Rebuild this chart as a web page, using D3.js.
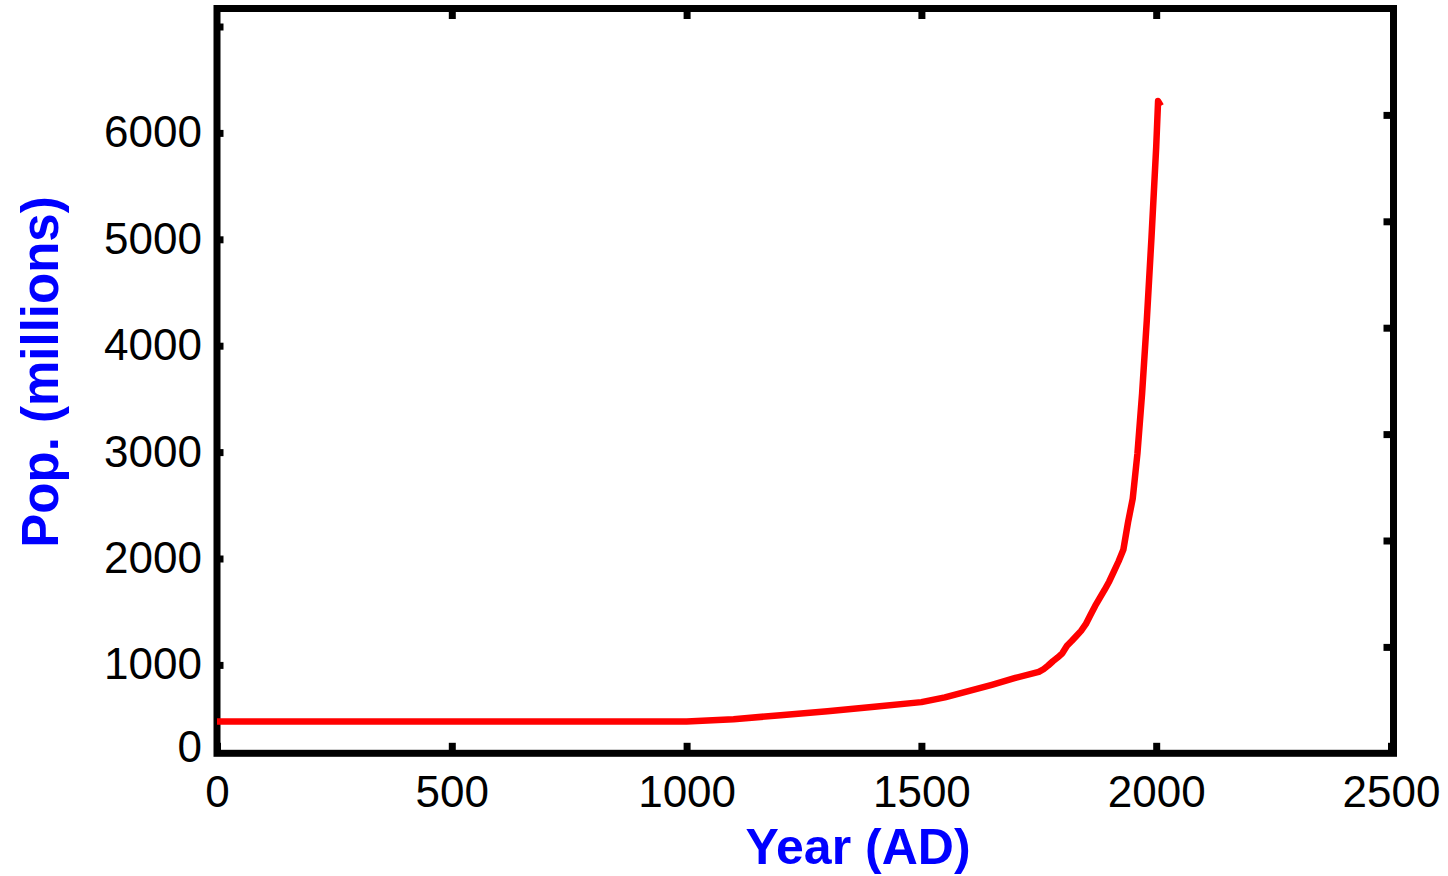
<!DOCTYPE html>
<html>
<head>
<meta charset="utf-8">
<script src="https://cdn.jsdelivr.net/npm/d3@7"></script>
<style>
  body { margin: 0; background: #fff; }
  svg { display: block; }
</style>
</head>
<body>
<svg id="chart" width="1448" height="876"></svg>
<script>
// world population (year AD, millions)
var years = [0, 1000, 1100, 1200, 1300, 1400, 1500, 1550, 1600, 1650, 1700, 1750, 1760,
             1770, 1780, 1790, 1800, 1810, 1820, 1830, 1840, 1850, 1860, 1870, 1880,
             1890, 1900, 1910, 1920, 1930, 1940, 1950, 1960, 1970, 1980, 1990, 2000,
             2004, 2010];
var pops = [300, 300, 320, 358, 395, 437, 481, 526, 585, 644, 708, 765, 790,
            825, 865, 900, 940, 1010, 1055, 1103, 1151, 1213, 1300, 1385, 1460,
            1535, 1615, 1710, 1805, 1912, 2170, 2394, 2815, 3385, 4070, 4850, 5698,
            6130, 6085];

var xTicks = [0, 500, 1000, 1500, 2000, 2500];
var yTicks = [1000, 2000, 3000, 4000, 5000, 6000, 7000];

var svg = d3.select("#chart");

var x = d3.scaleLinear().domain([0, 2500]).range([217, 1391]);
var y = d3.scaleLinear().domain([0, 7000]).range([753.3, 8.5]);

var right = x(2500) + 2.5;
var leftShift = 18;   // left ticks/labels sit a bit lower than the right ones in the original

// frame
svg.append("rect")
    .attr("x", x(0))
    .attr("y", y(7000))
    .attr("width", right - x(0))
    .attr("height", y(0) - y(7000))
    .attr("fill", "none")
    .attr("stroke", "#000")
    .attr("stroke-width", 7);

// bottom axis
var xAxis = d3.axisBottom(x).tickValues(xTicks).tickSize(-10.5).tickPadding(22)
    .tickFormat(d3.format("d"));
var gx = svg.append("g")
    .attr("transform", `translate(0, ${y(0)})`)
    .call(xAxis);

// top ticks
var gt = svg.append("g")
    .attr("transform", `translate(0, ${y(7000)})`)
    .call(d3.axisTop(x).tickValues(xTicks.slice(1, -1)).tickSize(-10.5).tickFormat(""));

// right ticks
var gr = svg.append("g")
    .attr("transform", `translate(${right}, 0)`)
    .call(d3.axisRight(y).tickValues(yTicks.slice(0, -1)).tickSize(-10).tickFormat(""));

// left axis with labels
var yAxis = d3.axisLeft(y).tickValues(yTicks).tickSize(-6.5).tickPadding(15)
    .tickFormat(function(d) { return d == 7000 ? "" : d; });
var gy = svg.append("g")
    .attr("transform", `translate(${x(0)}, ${leftShift})`)
    .call(yAxis);

// the zero label stays at the true baseline
svg.append("text")
    .attr("class", "zero")
    .attr("x", x(0) - 15)
    .attr("y", y(0) - 5)
    .attr("dy", "0.32em")
    .attr("text-anchor", "end")
    .text("0");

[gx, gt, gr, gy].forEach(function(g) {
    g.select(".domain").remove();
    g.selectAll(".tick line").attr("stroke", "#000").attr("stroke-width", 7);
});

svg.selectAll(".tick text, text.zero")
    .attr("fill", "#000")
    .style("font-family", "'Liberation Sans', Arial, sans-serif")
    .style("font-size", "44px");

// population curve
var pts = years.map(function(yr, i) { return [yr, pops[i]]; });
var line = d3.line()
    .x(function(d) { return x(d[0]); })
    .y(function(d) { return y(d[1]); });

svg.append("path")
    .datum(pts)
    .attr("d", line)
    .attr("fill", "none")
    .attr("stroke", "#ff0000")
    .attr("stroke-width", 6.5)
    .attr("stroke-linejoin", "round");

// axis titles
svg.append("text")
    .attr("x", 858)
    .attr("y", 864)
    .attr("text-anchor", "middle")
    .attr("fill", "#0000ff")
    .style("font-family", "'Liberation Sans', Arial, sans-serif")
    .style("font-weight", "bold")
    .style("font-size", "50px")
    .text("Year (AD)");

svg.append("text")
    .attr("transform", "translate(58, 372) rotate(-90)")
    .attr("text-anchor", "middle")
    .attr("fill", "#0000ff")
    .style("font-family", "'Liberation Sans', Arial, sans-serif")
    .style("font-weight", "bold")
    .style("font-size", "51px")
    .text("Pop. (millions)");
</script>
</body>
</html>
